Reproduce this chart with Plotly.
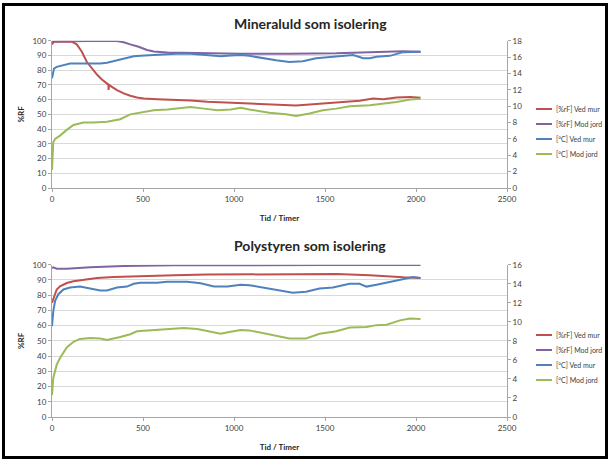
import plotly.graph_objects as go

# ---------------- data: top chart (Mineraluld) ----------------
t1_rf_mur_x = [0, 10, 50, 108, 136, 164, 191, 219, 247, 274, 302, 310, 311, 313, 329, 357, 394, 430, 467, 504,
               578, 670, 762, 854, 946, 1037, 1194, 1341, 1470, 1599, 1690, 1764, 1819, 1893, 1967, 2025]
t1_rf_mur_y = [97.5, 99.3, 99.5, 99.3, 97.5, 92.5, 85.7, 81, 77, 73.7, 71, 70.2, 66.5, 70, 68.7, 66.4, 64.2, 62.6,
               61.5, 60.8, 60.3, 60, 59.4, 58.5, 58, 58.0, 57, 56, 57.2, 58.1, 59.2, 60.8, 60.3, 61.5, 61.7, 61.2]

t1_rf_jord_x = [0, 100, 200, 357, 394, 430, 476, 522, 559, 633, 762, 890, 1037, 1300, 1562, 1746, 1930, 2025]
t1_rf_jord_y = [99.5, 99.8, 99.8, 99.8, 98.9, 97.5, 95.9, 93.7, 92.7, 92, 91.6, 91.4, 91.2, 91.2, 91.4, 92.2,
                92.8, 92.5]

t1_c_mur_x = [0, 11, 26, 63, 99, 154, 265, 302, 357, 412, 449, 486, 559, 633, 706, 762, 817, 872, 927, 982, 1037,
              1084, 1157, 1231, 1304, 1378, 1451, 1525, 1617, 1654, 1690, 1709, 1746, 1783, 1856, 1930, 2025]
t1_c_mur_y = [13.4, 14.6, 14.8, 15.0, 15.2, 15.2, 15.2, 15.3, 15.6, 15.85, 16.1, 16.15, 16.25, 16.4, 16.45, 16.4,
              16.3, 16.15, 16.1, 16.2, 16.25, 16.15, 15.85, 15.6, 15.4, 15.5, 15.85, 16.0, 16.15, 16.25, 16.0,
              15.85, 15.85, 16.05, 16.15, 16.6, 16.65]

t1_c_jord_x = [0, 7, 17, 44, 81, 118, 173, 228, 302, 375, 430, 486, 559, 633, 706, 762, 835, 909, 982, 1037, 1084,
               1194, 1286, 1341, 1415, 1488, 1562, 1636, 1746, 1819, 1893, 1967, 2025]
t1_c_jord_y = [2.2, 5.6, 6.0, 6.4, 7.1, 7.7, 8.0, 8.0, 8.1, 8.4, 9.0, 9.2, 9.5, 9.6, 9.8, 9.9, 9.7, 9.5, 9.6, 9.8,
               9.6, 9.2, 9.0, 8.8, 9.1, 9.5, 9.7, 10.0, 10.1, 10.3, 10.5, 10.8, 10.9]

# ---------------- data: bottom chart (Polystyren) ----------------
t2_rf_mur_x = [0, 11, 26, 44, 81, 118, 173, 247, 339, 486, 670, 854, 1037, 1300, 1562, 1746, 1838, 1930, 2025]
t2_rf_mur_y = [75, 79.3, 83.7, 85.8, 88, 89.1, 90.2, 91.3, 91.9, 92.6, 93, 93.5, 93.7, 93.9, 93.9, 93, 92.2,
               91.7, 91.3]

t2_rf_jord_x = [0, 7, 26, 81, 210, 394, 670, 1037, 1500, 2025]
t2_rf_jord_y = [97.8, 98.3, 97.4, 97.4, 98.3, 99.1, 99.6, 99.8, 99.8, 99.8]

t2_c_mur_x = [0, 7, 17, 35, 63, 99, 154, 210, 265, 302, 357, 412, 449, 486, 578, 633, 706, 743, 817, 890, 964,
              1037, 1084, 1157, 1249, 1323, 1396, 1470, 1543, 1635, 1690, 1728, 1783, 1856, 1930, 1985, 2025]
t2_c_mur_y = [9.55, 11.1, 12.2, 12.9, 13.4, 13.6, 13.7, 13.5, 13.3, 13.3, 13.6, 13.7, 14.0, 14.1, 14.1, 14.2,
              14.15, 14.2, 14.05, 13.7, 13.7, 13.9, 13.85, 13.6, 13.3, 13.05, 13.15, 13.5, 13.6, 14.0, 14.0, 13.7,
              13.9, 14.2, 14.5, 14.7, 14.6]

t2_c_jord_x = [0, 7, 26, 44, 81, 118, 154, 210, 265, 302, 375, 430, 467, 541, 633, 725, 798, 872, 927, 982, 1037,
               1084, 1194, 1304, 1396, 1470, 1562, 1636, 1728, 1783, 1838, 1912, 1967, 2025]
t2_c_jord_y = [2.3, 4.1, 5.5, 6.2, 7.3, 7.9, 8.2, 8.3, 8.25, 8.1, 8.4, 8.7, 9.0, 9.1, 9.2, 9.35, 9.25, 8.95,
               8.75, 8.95, 9.15, 9.1, 8.7, 8.25, 8.25, 8.75, 9.0, 9.4, 9.45, 9.65, 9.7, 10.15, 10.35, 10.3]

series_names = ["[%rF] Ved mur", "[%rF] Mod jord", "[°C] Ved mur", "[°C] Mod jord"]
series_colors = ["#C0504D", "#8064A2", "#4F81BD", "#9BBB59"]
titles = ["Mineraluld som isolering", "Polystyren som isolering"]
x_title = "Tid / Timer"
y_title = "%RF"

FONT = "Lato, Open Sans, sans-serif"
W, H = 610, 461

fig = go.Figure()

top = [(t1_rf_mur_x, t1_rf_mur_y, "y"), (t1_rf_jord_x, t1_rf_jord_y, "y"),
       (t1_c_mur_x, t1_c_mur_y, "y2"), (t1_c_jord_x, t1_c_jord_y, "y2")]
bot = [(t2_rf_mur_x, t2_rf_mur_y, "y3"), (t2_rf_jord_x, t2_rf_jord_y, "y3"),
       (t2_c_mur_x, t2_c_mur_y, "y4"), (t2_c_jord_x, t2_c_jord_y, "y4")]

for i, (xs, ys, ya) in enumerate(top):
    fig.add_trace(go.Scatter(x=xs, y=ys, xaxis="x", yaxis=ya, mode="lines", name=series_names[i],
                             line=dict(color=series_colors[i], width=2), showlegend=False))
for i, (xs, ys, ya) in enumerate(bot):
    fig.add_trace(go.Scatter(x=xs, y=ys, xaxis="x2", yaxis=ya, mode="lines", name=series_names[i],
                             line=dict(color=series_colors[i], width=2), showlegend=False))

xd = [52 / W, 507 / W]
top_dom = [1 - 188 / H, 1 - 40.7 / H]
bot_dom = [1 - 417 / H, 1 - 264.7 / H]

tickfont = dict(family=FONT, size=8, color="#404040")
titlefont = dict(family=FONT, size=8, color="#262626", weight="bold")

def xax(anchor):
    return dict(domain=xd, anchor=anchor, range=[0, 2500], dtick=500, showgrid=False, zeroline=False,
                showline=True, linecolor="#A6A6A6", linewidth=1, ticks="outside", ticklen=3,
                tickcolor="#A6A6A6", tickfont=tickfont, automargin=False,
                title=dict(text=x_title, font=titlefont, standoff=12))

def yleft(dom, anchor):
    return dict(domain=dom, anchor=anchor, range=[0, 100], dtick=10, showgrid=True, gridcolor="#D9D9D9",
                gridwidth=1, zeroline=False, showline=True, linecolor="#A6A6A6", linewidth=1,
                ticks="outside", ticklen=3, tickcolor="#A6A6A6", tickfont=tickfont, automargin=False,
                title=dict(text=y_title, font=titlefont, standoff=6))

def yright(over, anchor, top_val):
    return dict(overlaying=over, anchor=anchor, side="right", range=[0, top_val], dtick=2, showgrid=False,
                zeroline=False, showline=True, linecolor="#A6A6A6", linewidth=1, ticks="outside", ticklen=3,
                tickcolor="#A6A6A6", tickfont=tickfont, automargin=False)

# manual legends (one per chart), placed to the right of each plot
legend_rows = [[109, 124, 139, 154], [335, 350, 365, 380]]
annotations = [
    dict(text=titles[0], x=310 / W, y=1 - 24 / H, xref="paper", yref="paper", showarrow=False,
         xanchor="center", yanchor="middle", font=dict(family=FONT, size=14, color="#262626", weight="bold")),
    dict(text=titles[1], x=310 / W, y=1 - 246 / H, xref="paper", yref="paper", showarrow=False,
         xanchor="center", yanchor="middle", font=dict(family=FONT, size=14, color="#262626", weight="bold")),
]
shapes = [dict(type="rect", xref="paper", yref="paper", x0=3.5 / W, x1=606.5 / W, y0=1 - 457.5 / H,
               y1=1 - 4.5 / H, line=dict(color="black", width=3), fillcolor="rgba(0,0,0,0)", layer="above")]
for rows in legend_rows:
    for i, yy in enumerate(rows):
        shapes.append(dict(type="line", xref="paper", yref="paper", x0=536 / W, x1=552 / W,
                           y0=1 - yy / H, y1=1 - yy / H, line=dict(color=series_colors[i], width=2)))
        annotations.append(dict(text=series_names[i], x=554 / W, y=1 - yy / H, xref="paper", yref="paper",
                                showarrow=False, xanchor="left", yanchor="middle",
                                font=dict(family=FONT, size=7, color="#404040")))

fig.update_layout(
    width=W, height=H,
    margin=dict(l=0, r=0, t=0, b=0),
    paper_bgcolor="white", plot_bgcolor="white",
    showlegend=False,
    xaxis=xax("y"), xaxis2=xax("y3"),
    yaxis=yleft(top_dom, "x"), yaxis2=yright("y", "x", 18),
    yaxis3=yleft(bot_dom, "x2"), yaxis4=yright("y3", "x2", 16),
    annotations=annotations,
    shapes=shapes,
)

fig.write_html("out.html", config={"displayModeBar": False},
               post_script="document.body.style.margin='0';document.body.style.overflow='hidden';")
